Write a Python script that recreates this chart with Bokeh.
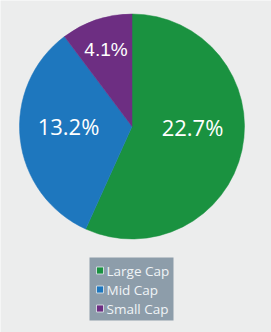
import numpy as np
from bokeh.plotting import figure
from bokeh.models import Range1d, ColumnDataSource
from bokeh.core.properties import value
from bokeh.embed import file_html
from bokeh.resources import INLINE

# ---- data ----
categories = ["Large Cap", "Mid Cap", "Small Cap"]
values = [22.7, 13.2, 4.1]
labels = ["22.7%", "13.2%", "4.1%"]
colors = ["#1A9240", "#1E77BE", "#6D2E82"]

# ---- geometry (layout) ----
W, H = 271, 332
cx, cy, R = 131.5, 206.0, 112.5

vals = np.array(values, dtype=float)
frac = vals / vals.sum()
ends_cum = np.cumsum(frac)
starts_cum = ends_cum - frac
start_angle = np.pi / 2 - starts_cum * 2 * np.pi
end_angle = np.pi / 2 - ends_cum * 2 * np.pi
mid = (start_angle + end_angle) / 2

p = figure(width=W, height=H, output_backend="svg", toolbar_location=None,
           x_range=Range1d(0, W), y_range=Range1d(0, H), min_border=0)
p.axis.visible = False
p.grid.visible = False
p.outline_line_color = None
p.background_fill_color = "#ECEDED"
p.border_fill_color = "#ECEDED"

src = ColumnDataSource(dict(x=[cx] * len(values), y=[cy] * len(values),
                            s=start_angle, e=end_angle, c=colors, cat=categories))
p.wedge(x="x", y="y", radius=R, start_angle="s", end_angle="e",
        direction="clock", source=src, fill_color="c", line_color="c",
        line_width=0.5)

# slice labels
label_r = [0.55, 0.55, 0.73]
label_dx = [0, -2, 0]
label_dy = [-13, -7, 1]
label_size = ["22px", "22px", "19px"]
label_font = ["Open Sans", "Open Sans", "Liberation Sans"]
for i in range(len(values)):
    lx = cx + label_r[i] * R * np.cos(mid[i])
    ly = cy + label_r[i] * R * np.sin(mid[i])
    p.text(x=[lx], y=[ly], text=[labels[i]], text_color="#FFFFFF",
           text_font=value(label_font[i]), text_font_size=label_size[i],
           text_align="center", text_baseline="middle",
           x_offset=label_dx[i], y_offset=label_dy[i])

# legend (drawn by hand)
lg_left, lg_right, lg_top, lg_bottom = 89, 173, 332 - 257, 332 - 320
p.quad(left=[lg_left], right=[lg_right], top=[lg_top], bottom=[lg_bottom],
       fill_color="#8D9DAA", line_color=None)
row_y = [332 - 270, 332 - 289, 332 - 308]
leg = ColumnDataSource(dict(x=[99.5] * len(categories), tx=[106] * len(categories),
                            y=row_y, c=colors, t=categories))
p.scatter(x="x", y="y", marker="square", size=7, fill_color="c",
          line_color="#E6ECF0", line_width=0.8, source=leg)
p.text(x="tx", y="y", text="t", text_color="#F0F4F7",
       text_font=value("Open Sans"), text_font_size="13.5px",
       text_align="left", text_baseline="middle", source=leg)

open("out.html", "w").write(file_html(p, INLINE))
